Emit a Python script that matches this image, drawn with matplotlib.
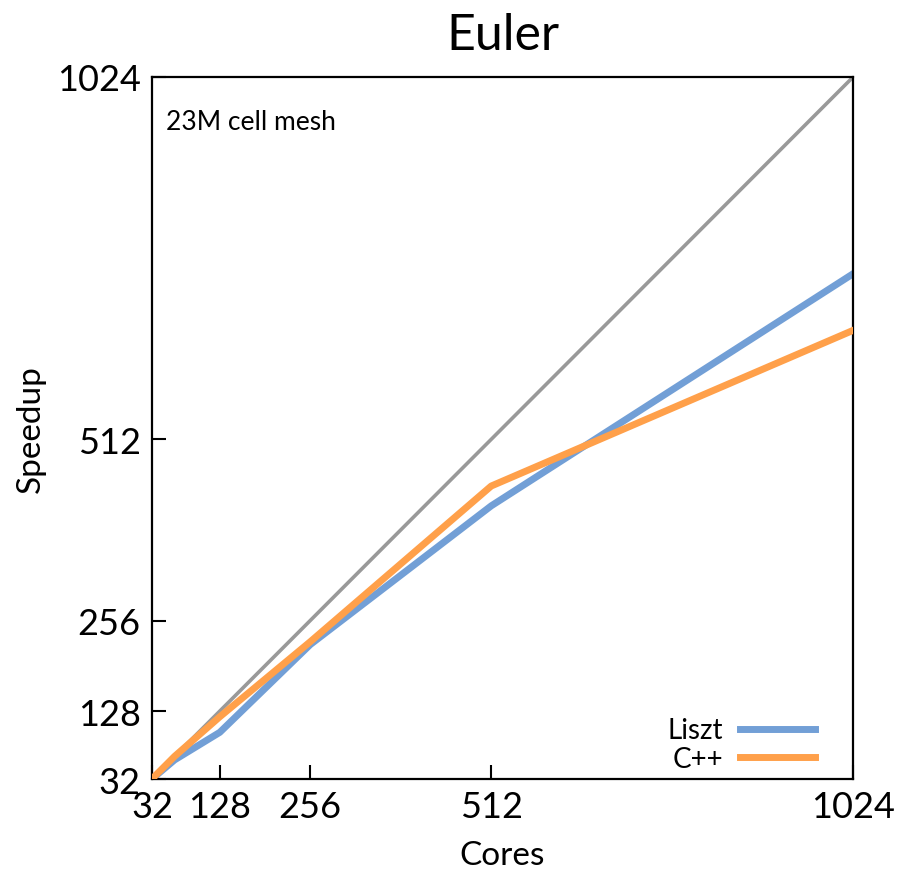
import matplotlib
matplotlib.use("Agg")
import matplotlib.pyplot as plt

# ── data ────────────────────────────────────────────────────
cores = [32, 64, 128, 256, 512, 1024]
liszt = [32, 59, 98, 222, 418, 746]
cpp = [32, 64, 120, 226, 446, 666]
ideal = [32, 1024]
ticks = [32, 128, 256, 512, 1024]

plt.rcParams["font.family"] = ["Lato", "DejaVu Sans"]

fig = plt.figure(figsize=(8.99, 8.7), dpi=100)
ax = fig.add_axes([0.169, 0.1034, 0.78, 0.807])

ax.plot(ideal, ideal, color="#999999", lw=2.6, zorder=1)
ax.plot(cores, liszt, color="#729fd6", lw=5, label="Liszt", zorder=2)
ax.plot(cores, cpp, color="#ffa04a", lw=5, label="C++", zorder=3)

ax.set_xlim(32, 1024)
ax.set_ylim(32, 1024)
ax.set_xticks(ticks)
ax.set_yticks(ticks)
ax.tick_params(direction="in", length=10, width=1.5, labelsize=26, pad=8)
for s in ax.spines.values():
    s.set_linewidth(1.6)

ax.set_title("Euler", fontsize=36, pad=20)
ax.set_xlabel("Cores", fontsize=24, labelpad=12)
ax.set_ylabel("Speedup", fontsize=24, labelpad=8)
ax.text(0.02, 0.955, "23M cell mesh", transform=ax.transAxes,
        fontsize=19, va="top", ha="left")

ax.legend(loc="lower right", markerfirst=False, frameon=False,
          fontsize=20, handlelength=2.7, labelspacing=0.1,
          handletextpad=0.6, borderaxespad=0.0,
          bbox_to_anchor=(0.961, -0.006))

fig.savefig("out.png", dpi=100)
